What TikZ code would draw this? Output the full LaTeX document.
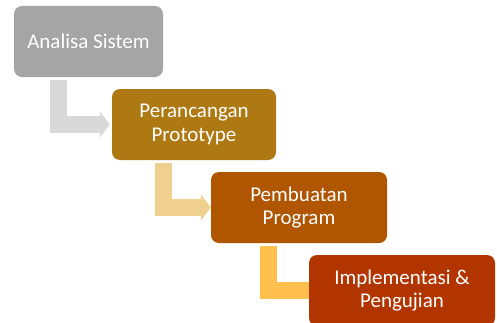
\documentclass[tikz,border=0pt]{standalone}
\usepackage{fontspec}
\setmainfont{Carlito}
\usetikzlibrary{arrows.meta,backgrounds}
\definecolor{cA}{HTML}{A5A5A5}
\definecolor{cB}{HTML}{AE7812}
\definecolor{cC}{HTML}{B05500}
\definecolor{cD}{HTML}{B23500}
\definecolor{aA}{HTML}{D9D9D9}
\definecolor{aB}{HTML}{F0D08F}
\definecolor{aC}{HTML}{FFC04D}
\begin{document}
\begin{tikzpicture}[x=1pt,y=1pt,
  stepbox/.style={rounded corners=8pt,minimum height=71pt,inner sep=0pt,
    text=white,align=center,font=\fontsize{21}{23.5}\selectfont},
  elbowarrow/.style={line width=17pt,line join=miter,-{Triangle[width=26pt,length=10pt]}}]
\useasboundingbox (0,0) rectangle (497,322);
\node[stepbox,fill=cA,minimum width=149pt] (b1) at (88.5,280.5) {Analisa Sistem};
\node[stepbox,fill=cB,minimum width=164pt] (b2) at (194,197.5) {Perancangan\\Prototype};
\node[stepbox,fill=cC,minimum width=176pt] (b3) at (299,114.5) {Pembuatan\\Program};
\node[stepbox,fill=cD,minimum width=186pt] (b4) at (402,31.5) {Implementasi \&\\Pengujian};
\begin{scope}[on background layer]
\draw[elbowarrow,aA] ([xshift=44.5pt,yshift=-3pt]b1.south west) |- ([xshift=-2pt]b2.west);
\draw[elbowarrow,aB] ([xshift=52pt,yshift=-3pt]b2.south west) |- (b3.west);
\draw[elbowarrow,aC] ([xshift=58pt,yshift=-3pt]b3.south west) |- ([xshift=14pt]b4.west);
\end{scope}
\end{tikzpicture}
\end{document}
